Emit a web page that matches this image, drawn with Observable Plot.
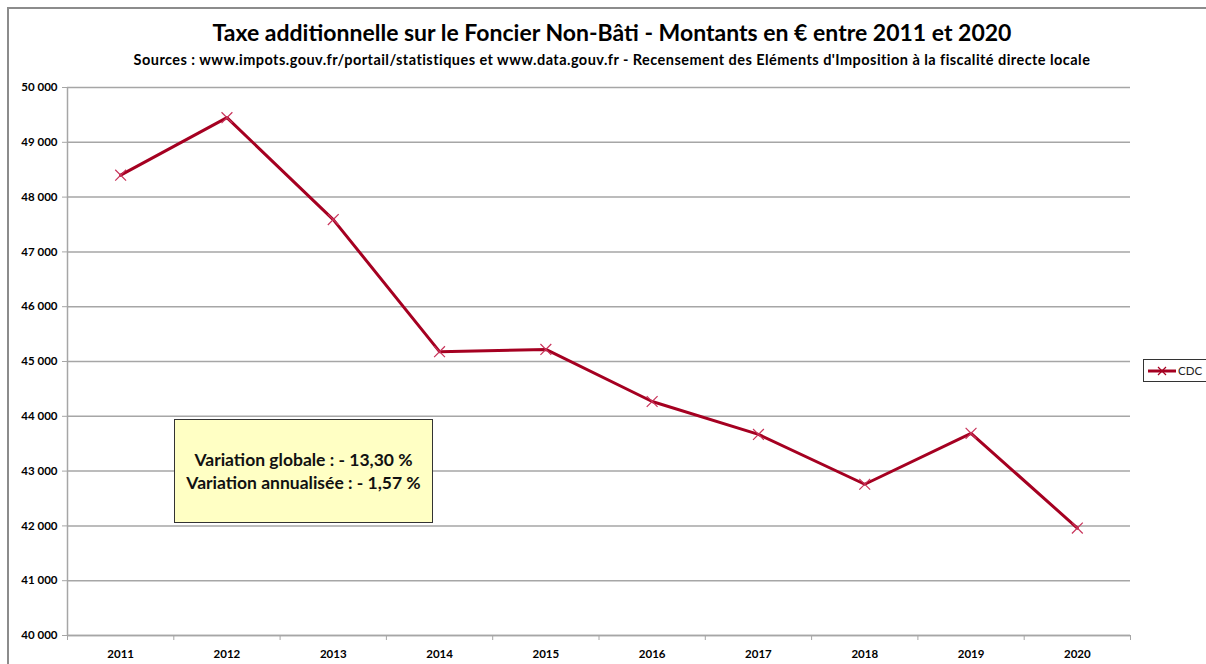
<!DOCTYPE html>
<html><head><meta charset="utf-8">
<script src="https://cdn.jsdelivr.net/npm/d3@7"></script>
<script src="https://cdn.jsdelivr.net/npm/@observablehq/plot@0.6"></script>
<style>
html,body{margin:0;padding:0;background:#fff;width:1206px;height:664px;overflow:hidden;font-family:Lato,"Open Sans",sans-serif;}
#frame{position:absolute;left:7px;top:7px;width:1300px;height:800px;border-left:2px solid #8c8c8c;border-top:2px solid #8c8c8c;}
#title{position:absolute;left:0;top:18px;width:1224px;text-align:center;font-weight:bold;font-size:23px;color:#000;}
#subtitle{position:absolute;left:0;top:51px;width:1224px;text-align:center;font-weight:bold;font-size:14.5px;letter-spacing:0.45px;color:#000;}
#chart{position:absolute;left:0;top:70px;}
#note{position:absolute;left:174px;top:419px;width:257px;height:102px;background:#ffffc4;border:1px solid #333;box-sizing:content-box;display:flex;align-items:center;justify-content:center;text-align:center;font-weight:bold;font-size:17.5px;line-height:23px;color:#111;}
#legend{position:absolute;left:1143px;top:359px;width:80px;height:21px;border:1px solid #333;background:#fff;font-size:11.5px;display:flex;align-items:center;}
#legend span{margin-left:2px;color:#222;}
</style></head>
<body>
<div id="frame"></div>
<div id="title">Taxe additionnelle sur le Foncier Non-Bâti - Montants en € entre 2011 et 2020</div>
<div id="subtitle">Sources : www.impots.gouv.fr/portail/statistiques et www.data.gouv.fr - Recensement des Eléments d'Imposition à la fiscalité directe locale</div>
<div id="chart"></div>
<div id="note"><div>Variation globale : - 13,30 %<br>Variation annualisée : - 1,57 %</div></div>
<div id="legend"><svg width="32" height="10"><line x1="4" x2="32" y1="5" y2="5" stroke="#a50021" stroke-width="3"/><path d="M14,1L22,9M22,1L14,9" stroke="#a50021" stroke-width="1.2"/></svg><span>CDC</span></div>
<script>
const years = [2011, 2012, 2013, 2014, 2015, 2016, 2017, 2018, 2019, 2020];
const values = [48400, 49450, 47590, 45180, 45220, 44270, 43670, 42760, 43690, 41960];
const yTicks = [40000, 41000, 42000, 43000, 44000, 45000, 46000, 47000, 48000, 49000, 50000];
const seriesName = "CDC";

const data = years.map((year, i) => ({year, value: values[i], serie: seriesName}));
const boundaries = years.map(y => y - 0.5).concat([years[years.length - 1] + 0.5]);
const fmt = d3.formatLocale({thousands: " ", grouping: [3], decimal: ","}).format(",");

const chart = Plot.plot({
  width: 1206,
  height: 594,
  marginLeft: 67,
  marginRight: 76,
  marginTop: 17,
  marginBottom: 29,
  style: {fontFamily: "Lato, 'Open Sans', sans-serif", fontSize: "11.5px", color: "#000", background: "transparent"},
  x: {domain: [boundaries[0], boundaries[boundaries.length - 1]]},
  y: {domain: [yTicks[0], yTicks[yTicks.length - 1]]},
  marks: [
    Plot.gridY(yTicks, {stroke: "#a6a6a6", strokeOpacity: 1, strokeWidth: 1.5}),
    Plot.ruleX([boundaries[0]], {stroke: "#a6a6a6", strokeWidth: 1.5}),
    Plot.ruleY([yTicks[0]], {stroke: "#a6a6a6", strokeWidth: 1.5}),
    Plot.axisY({ticks: yTicks, tickSize: 5, tickPadding: 5, tickFormat: fmt, stroke: "#a6a6a6", fontWeight: "bold", fill: "#000", label: null}),
    Plot.axisX({ticks: boundaries, tickSize: 5, tickFormat: () => "", stroke: "#a6a6a6", label: null}),
    Plot.axisX({ticks: years, tickSize: 0, tickPadding: 14, tickFormat: d => String(d), fontWeight: "bold", fill: "#000", label: null}),
    Plot.line(data, {x: "year", y: "value", stroke: "#a50021", strokeWidth: 3}),
    Plot.dot(data, {x: "year", y: "value", symbol: "times", r: 5, stroke: "#c8335a", strokeWidth: 1.2})
  ]
});
document.getElementById("chart").appendChild(chart);
</script>
</body></html>
